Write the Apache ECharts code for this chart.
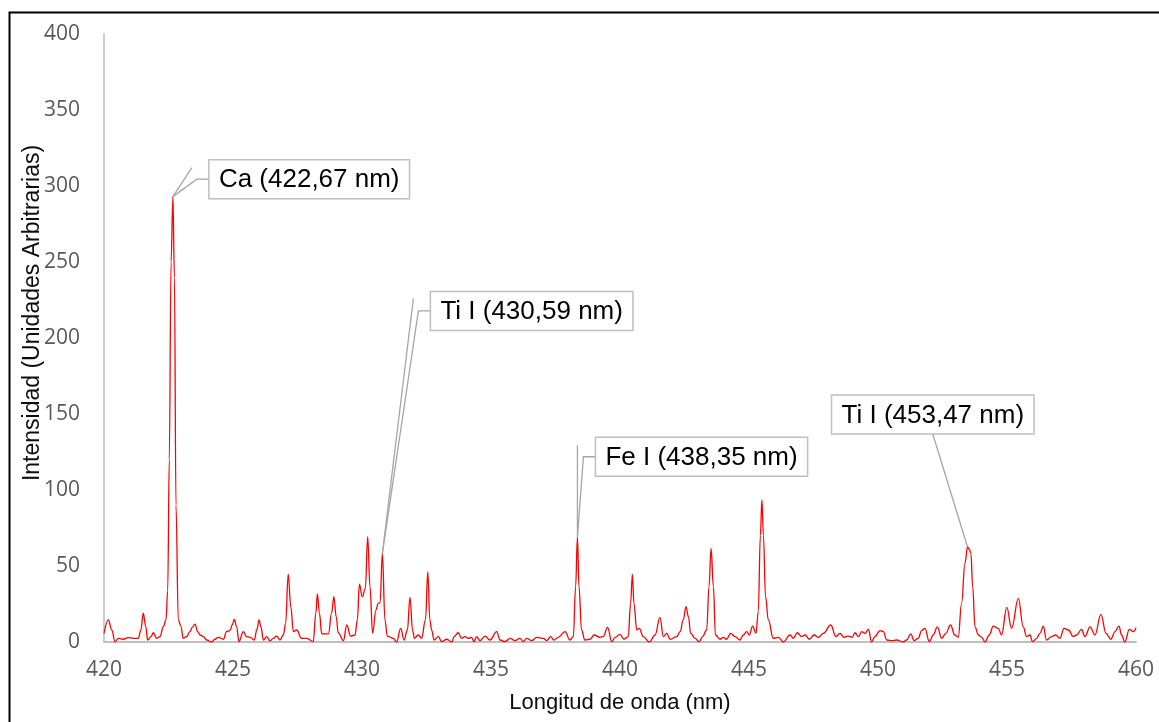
<!DOCTYPE html>
<html>
<head>
<meta charset="utf-8">
<title>Espectro de emisión</title>
<script src="https://cdn.jsdelivr.net/npm/echarts@6/dist/echarts.min.js"></script>
<style>
  html, body { margin: 0; padding: 0; background: #ffffff; }
  #chart { width: 1159px; height: 722px; }
</style>
</head>
<body>
<div id="chart"></div>
<script>
// Longitud de onda (nm) de cada punto del espectro
const wavelength = [
  420.00, 420.17, 420.30, 420.43, 420.56, 420.75, 420.94, 421.14, 421.33, 421.43,
  421.52, 421.62, 421.69, 421.82, 421.91, 422.04, 422.17, 422.30, 422.40, 422.47,
  422.53, 422.60, 422.67, 422.73, 422.79, 422.88, 422.98, 423.07, 423.20, 423.33,
  423.42, 423.53, 423.63, 423.72, 423.85, 423.98, 424.17, 424.30, 424.43, 424.63,
  424.75, 424.88, 424.97, 425.05, 425.14, 425.23, 425.40, 425.53, 425.66, 425.83,
  425.92, 426.01, 426.08, 426.18, 426.31, 426.43, 426.56, 426.69, 426.82, 426.95,
  427.04, 427.14, 427.24, 427.34, 427.47, 427.66, 427.86, 428.11, 428.21, 428.27,
  428.35, 428.44, 428.70, 428.82, 428.91, 429.00, 429.08, 429.28, 429.41, 429.56,
  429.73, 429.82, 429.90, 430.01, 430.13, 430.22, 430.31, 430.41, 430.54, 430.63,
  430.70, 430.79, 430.89, 430.98, 431.21, 431.34, 431.50, 431.63, 431.76, 431.86,
  431.96, 432.03, 432.18, 432.31, 432.46, 432.55, 432.63, 432.70, 432.79, 432.96,
  433.09, 433.28, 433.48, 433.57, 433.73, 433.86, 433.99, 434.12, 434.25, 434.34,
  434.44, 434.57, 434.77, 434.96, 435.22, 435.35, 435.54, 435.74, 435.93, 436.12,
  436.25, 436.38, 436.58, 436.77, 437.03, 437.16, 437.31, 437.44, 437.61, 437.87,
  438.06, 438.19, 438.28, 438.35, 438.41, 438.51, 438.64, 438.84, 439.00, 439.22,
  439.35, 439.52, 439.68, 439.81, 440.00, 440.15, 440.32, 440.41, 440.48, 440.54,
  440.65, 440.75, 440.90, 441.14, 441.36, 441.55, 441.68, 441.81, 441.94, 442.20,
  442.33, 442.45, 442.56, 442.65, 442.74, 442.91, 443.07, 443.20, 443.36, 443.45,
  443.53, 443.62, 443.70, 443.88, 444.00, 444.13, 444.29, 444.46, 444.65, 444.78,
  444.91, 445.01, 445.14, 445.27, 445.36, 445.44, 445.50, 445.56, 445.64, 445.75,
  445.94, 446.14, 446.33, 446.59, 446.72, 446.87, 447.04, 447.17, 447.34, 447.52,
  447.69, 447.88, 448.17, 448.37, 448.53, 448.68, 448.85, 449.00, 449.11, 449.24,
  449.37, 449.50, 449.63, 449.75, 449.88, 450.08, 450.21, 450.34, 450.53, 450.72,
  450.98, 451.11, 451.27, 451.40, 451.56, 451.69, 451.82, 451.99, 452.14, 452.30,
  452.47, 452.63, 452.81, 452.98, 453.11, 453.24, 453.37, 453.47, 453.54, 453.60,
  453.67, 453.76, 453.89, 454.02, 454.15, 454.31, 454.47, 454.66, 454.79, 454.99,
  455.18, 455.44, 455.63, 455.76, 455.89, 455.99, 456.15, 456.28, 456.41, 456.53,
  456.73, 456.88, 457.05, 457.21, 457.38, 457.57, 457.70, 457.89, 458.02, 458.22,
  458.41, 458.64, 458.84, 459.02, 459.19, 459.34, 459.44, 459.57, 459.74, 459.90,
  460.00
];

// Intensidad (unidades arbitrarias) en cada longitud de onda
const intensity = [
  5.7, 14.5, 7.9, 0.2, 2.4, 1.8, 2.9, 2.4, 2.4, 7.9,
  18.9, 10.1, 1.3, 3.5, 6.1, 2.4, 3.5, 10.1, 14.5, 34,
  120, 250, 293, 240, 90, 14.5, 10.5, 2.4, 3.5, 6.8,
  9.6, 11.8, 6.8, 4.6, 3.5, 1.3, 0, 1.8, 3.1, 1.8,
  6.8, 7.5, 11.2, 14.9, 10.1, 0.2, 6.8, 3.5, 3.1, 1.3,
  7.9, 14.5, 10.1, 1.3, 3.5, 0.7, 2.4, 3.9, 1.3, 4.6,
  12.3, 44.7, 23.2, 6.8, 7.9, 2.4, 2.4, 0.2, 18.9, 31.6,
  18.9, 5.3, 5.3, 18.9, 29.8, 16.7, 6.0, 0.9, 11.2, 3.9,
  4.6, 14.5, 38, 29.8, 35.3, 69.3, 36.4, 5.7, 21, 25.4,
  25.9, 58.3, 14.5, 3.9, 2.4, 0, 9.0, 1.3, 7.9, 29.4,
  7.9, 2.4, 4.6, 2.4, 14.5, 46.3, 14.5, 7.9, 1.3, 3.5,
  0.2, 1.8, 0, 3.5, 6.1, 2.4, 3.5, 2.4, 3.1, 0.2,
  3.5, 0.9, 3.9, 1.3, 6.8, 1.3, 0.2, 2.4, 0.9, 2.4,
  0.2, 2.4, 0.9, 3.1, 2.4, 0.9, 3.5, 1.3, 3.1, 6.8,
  1.3, 3.5, 36.4, 68.9, 36.4, 7.9, 1.3, 1.8, 4.6, 3.1,
  3.5, 9.6, 0.2, 3.1, 5.0, 1.8, 3.5, 25.4, 44.7, 25.4,
  7.9, 9.0, 3.5, 0, 4.6, 16.2, 3.5, 5.7, 1.8, 3.5,
  6.8, 14.5, 23.3, 16.7, 5.7, 2.4, 0.2, 3.5, 7.9, 36.4,
  61.6, 36.4, 4.6, 1.8, 3.1, 1.8, 5.7, 3.5, 1.3, 4.6,
  6.8, 4.6, 10.5, 5.7, 20, 70, 93.5, 70, 30, 14.5,
  2.4, 3.1, 0, 4.6, 2.4, 6.1, 3.5, 4.6, 1.8, 4.6,
  3.1, 5.7, 11.2, 3.5, 5.7, 3.1, 3.9, 3.1, 6.1, 3.5,
  6.8, 5.7, 8.3, 0, 3.5, 7.5, 6.8, 1.3, 0.9, 1.3,
  0, 1.3, 5.3, 0.9, 2.4, 7.5, 9.0, 0.2, 4.6, 10.0,
  2.4, 5.7, 11.2, 4.6, 3.1, 25.4, 51.8, 62.5, 61.0, 58.5,
  36.4, 10.0, 4.6, 3.1, 0, 4.6, 10.5, 9.0, 4.6, 22.8,
  9.0, 28.7, 10.0, 3.5, 4.6, 0.2, 2.4, 5.7, 10.5, 1.3,
  3.5, 4.6, 2.4, 9.0, 7.9, 3.5, 4.6, 8.3, 3.5, 10.0,
  4.6, 18.2, 5.7, 1.8, 6.8, 10.5, 4.6, 0, 8.3, 6.8,
  9.4
];

// Líneas identificadas: texto de la etiqueta y punto del espectro al que señalan
const calloutText = ['Ca (422,67 nm)', 'Ti I (430,59 nm)', 'Fe I (438,35 nm)', 'Ti I (453,47 nm)'];
const calloutAt = [422.67, 430.79, 438.35, 453.47];

// Marcas del eje Y
const yTicks = [0, 50, 100, 150, 200, 250, 300, 350, 400];

const spectrum = wavelength.map((w, i) => [w, intensity[i]]);
const calloutData = calloutAt.map((w, i) => {
  const idx = wavelength.indexOf(w);
  return { name: calloutText[i], value: [wavelength[idx], intensity[idx]] };
});

// Callout box offset from its peak (px) and the short extra leader stub
const boxOffset = [[36, -37], [48, -262], [18, -100], [-136, -152]];
const stubOffset = [[19, -29], [31, -255], [0, -92], null];
const labelFont = '26px "Liberation Sans", Arial, sans-serif';
const leaderStyle = { stroke: '#a6a6a6', lineWidth: 1.3, fill: null };

function renderCallout(params, api) {
  const i = params.dataIndex;
  const p = api.coord([api.value(0), api.value(1)]);
  const bx = p[0] + boxOffset[i][0];
  const by = p[1] + boxOffset[i][1];
  const text = calloutText[i];
  const tw = echarts.format.getTextRect ? echarts.format.getTextRect(text, labelFont).width : 180;
  const padX = 10, boxH = 39;
  const boxW = tw + padX * 2;
  const children = [];
  if (stubOffset[i]) {
    const mid = by + boxH / 2;
    children.push({
      type: 'polyline',
      shape: { points: [[p[0] + stubOffset[i][0], p[1] + stubOffset[i][1]], p] },
      style: leaderStyle
    });
    children.push({
      type: 'polyline',
      shape: { points: [p, [bx - 12, mid], [bx, mid]] },
      style: leaderStyle
    });
  } else {
    children.push({
      type: 'polyline',
      shape: { points: [p, [bx + boxW / 2, by + boxH]] },
      style: leaderStyle
    });
  }
  children.push({
    type: 'rect',
    shape: { x: bx, y: by, width: boxW, height: boxH },
    style: { fill: '#ffffff', stroke: '#bfbfbf', lineWidth: 1.5 }
  });
  children.push({
    type: 'text',
    style: {
      text: text,
      x: bx + padX,
      y: by + boxH / 2 + 1,
      font: labelFont,
      fill: '#000000',
      align: 'left',
      verticalAlign: 'middle'
    }
  });
  return { type: 'group', children: children };
}

const chart = echarts.init(document.getElementById('chart'), null, { renderer: 'canvas' });

const tickFont = { fontFamily: 'Open Sans', fontSize: 21, color: '#595959' };

chart.setOption({
  animation: false,
  backgroundColor: '#ffffff',
  grid: { left: 104, right: 23, top: 34, bottom: 80, containLabel: false },
  xAxis: {
    type: 'value',
    min: 420,
    max: 460,
    interval: 5,
    axisLine: { show: true, lineStyle: { color: '#bfbfbf', width: 2 } },
    axisTick: { show: false },
    splitLine: { show: false },
    axisLabel: Object.assign({ margin: 18 }, tickFont)
  },
  yAxis: {
    type: 'value',
    min: yTicks[0],
    max: yTicks[yTicks.length - 1],
    interval: yTicks[1] - yTicks[0],
    axisLine: { show: true, lineStyle: { color: '#cccccc', width: 2 } },
    axisTick: { show: false },
    splitLine: { show: false },
    axisLabel: Object.assign({ margin: 24 }, tickFont)
  },
  series: [
    {
      name: 'Intensidad',
      type: 'line',
      data: spectrum,
      showSymbol: false,
      smooth: 0.4,
      smoothMonotone: 'x',
      lineStyle: { color: '#ff0000', width: 1.3 },
      z: 2
    },
    {
      name: 'Líneas',
      type: 'custom',
      data: calloutData,
      renderItem: renderCallout,
      clip: false,
      z: 3
    }
  ],
  graphic: [
    {
      type: 'rect',
      left: 7,
      top: 10,
      shape: { width: 1170, height: 730 },
      style: { fill: null, stroke: '#000000', lineWidth: 2 },
      silent: true
    },
    {
      type: 'text',
      x: 33,
      y: 313,
      rotation: Math.PI / 2,
      style: {
        text: 'Intensidad (Unidades Arbitrarias)',
        font: '23px "Liberation Sans", Arial, sans-serif',
        fill: '#0d0d0d',
        textAlign: 'center',
        textVerticalAlign: 'middle'
      }
    },
    {
      type: 'text',
      x: 620,
      y: 703,
      style: {
        text: 'Longitud de onda (nm)',
        font: '22px "Liberation Sans", Arial, sans-serif',
        fill: '#0d0d0d',
        textAlign: 'center',
        textVerticalAlign: 'middle'
      }
    }
  ]
});
</script>
</body>
</html>
